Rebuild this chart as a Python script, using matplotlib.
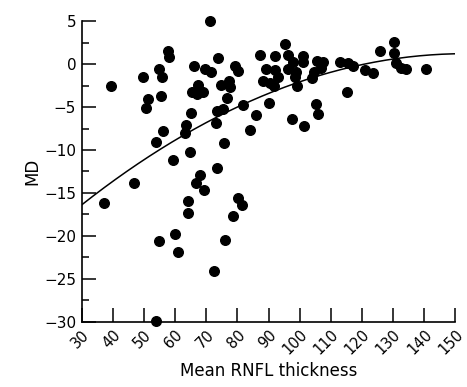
import numpy as np
import matplotlib
matplotlib.use("Agg")
from matplotlib import pyplot as plt
from matplotlib.ticker import MultipleLocator

# mean RNFL thickness (x) and MD (y)
rnfl = [39.3, 49.6, 51.4, 50.8, 54.7, 55.8, 55.6, 56.2, 54.0, 57.8, 58.1, 59.3,
        46.8, 37.3, 66.2, 69.5, 71.5, 71.1, 73.9, 65.3, 67.4, 67.1, 68.9, 65.1,
        63.6, 63.2, 64.9, 73.2, 73.6, 75.5, 75.8, 73.6, 68.1, 66.7, 69.2, 74.7,
        77.4, 77.7, 76.8, 79.3, 80.3, 64.2, 64.2, 54.8, 60.0, 61.0, 72.6, 75.9,
        78.6, 80.1, 81.4, 53.8, 81.9, 85.9, 84.0, 90.3, 87.2, 92.0, 95.3, 96.4,
        97.8, 101.0, 101.0, 89.3, 92.2, 93.0, 88.2, 90.4, 91.7, 96.4, 98.8, 98.6,
        99.1, 103.9, 104.7, 105.5, 107.6, 107.0, 97.6, 101.5, 105.2, 106.0, 112.8,
        115.5, 117.2, 115.3, 121.1, 123.5, 125.7, 130.2, 130.4, 130.9, 132.7,
        134.3, 140.5]
md = [-2.6, -1.5, -4.0, -5.1, -0.6, -1.5, -3.7, -7.8, -9.1, 1.5, 0.8, -11.2,
      -13.9, -16.2, -0.2, -0.6, -0.9, 5.0, 0.7, -3.2, -2.4, -3.5, -3.2, -5.7,
      -7.1, -8.0, -10.2, -6.9, -5.4, -5.2, -9.2, -12.1, -12.9, -13.9, -14.7, -2.4,
      -2.0, -2.7, -3.9, -0.2, -0.8, -15.9, -17.3, -20.6, -19.8, -21.9, -24.1, -20.5,
      -17.7, -15.6, -16.4, -29.9, -4.8, -5.9, -7.7, -4.5, 1.1, 0.9, 2.3, 1.1,
      0.3, 0.9, 0.3, -0.6, -0.7, -1.5, -2.0, -2.2, -2.5, -0.6, -0.9, -1.5,
      -2.5, -1.6, -0.9, 0.4, 0.3, -0.5, -6.4, -7.2, -4.6, -5.8, 0.3,
      0.1, -0.2, -3.2, -0.7, -1.0, 1.5, 2.6, 1.3, 0.1, -0.4,
      -0.6, -0.6]

# points
curve_x = [30, 43.8, 58.1, 80.3, 114.2, 149.5]
curve_y = [-16.3, -12.7, -9.4, -4.95, -0.4, 1.15]

xticks = np.arange(30, 151, 10)
yticks = np.arange(-30, 6, 5)

fig = plt.figure(figsize=(4.67, 3.87), dpi=100)
ax = fig.add_axes([0.175, 0.169, 0.8, 0.776])

coef = np.polyfit(curve_x, curve_y, 2)
xs = np.linspace(30, 150, 200)
ax.plot(xs, np.polyval(coef, xs), color="black", lw=1.1)
ax.scatter(rnfl, md, s=48, color="black", clip_on=False, zorder=3)

ax.set_xlim(30, 150)
ax.set_ylim(-30, 5)
ax.spines["right"].set_color("none")
ax.spines["top"].set_color("none")
ax.spines["left"].set_linewidth(1.2)
ax.spines["bottom"].set_linewidth(1.2)

ax.set_xticks(xticks)
ax.set_xticklabels([str(v) for v in xticks], rotation=45, ha="right",
                   rotation_mode="anchor")
ax.set_yticks(yticks)
ax.set_yticklabels([str(v).replace("-", "\u2212") for v in yticks])
ax.yaxis.set_minor_locator(MultipleLocator(2.5))
ax.tick_params(which="major", direction="in", length=10, width=1.1,
               labelsize=11, pad=4)
ax.tick_params(which="minor", direction="in", length=5, width=1.1)
ax.tick_params(axis="x", pad=4, labelsize=10.5)

ax.set_xlabel("Mean RNFL thickness", fontsize=12, labelpad=3)
ax.set_ylabel("MD", fontsize=12, labelpad=2)

plt.savefig("out.png", dpi=100)
